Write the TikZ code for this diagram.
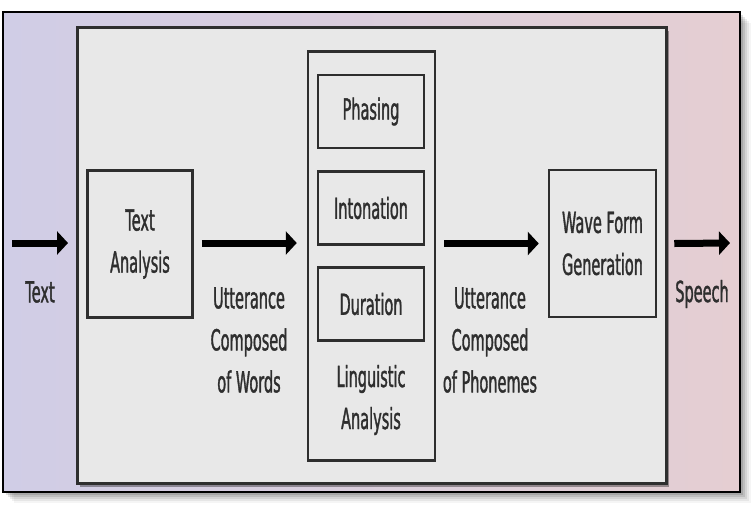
\documentclass[tikz,border=0pt]{standalone}
\usepackage{fontspec}
\setmainfont{DejaVu Sans}[FakeStretch=0.5,FakeBold=1.2]
\usetikzlibrary{arrows.meta,calc}
\definecolor{lav}{HTML}{D0CDE6}
\definecolor{pnk}{HTML}{E5CED2}
\definecolor{panel}{HTML}{E8E8E8}
\definecolor{ink}{HTML}{2E2E2E}
\tikzset{
  box/.style={draw=ink, line width=2.5pt, fill=panel, inner sep=0pt, align=center, text=ink,
    font=\fontsize{29}{42}\selectfont},
  lbl/.style={align=center, text=ink, inner sep=0pt, font=\fontsize{29}{42}\selectfont},
  flow/.style={draw=black, line width=7pt, -{Triangle[length=11pt,width=23pt]}},
}
\begin{document}
\begin{tikzpicture}[x=1pt,y=-1pt]
\useasboundingbox (0,0) rectangle (754,515);
\fill[white] (0,0) rectangle (754,515);
% outer frame shadow
\foreach \o/\op in {3/0.12,5/0.10,7/0.08,9/0.06,11/0.04}
  \fill[black,opacity=\op] (3+\o,12+\o) rectangle (740+\o,492+\o);
\shade[left color=lav, right color=pnk] (3,12) rectangle (740,492);
\draw[black, line width=2pt] (3,12) rectangle (740,492);
% inner panel shadow
\fill[black,opacity=0.35] (80,31) rectangle (669,487);
\filldraw[fill=panel, draw=ink, line width=3pt] (77,27) rectangle (666,483);
% boxes
\node[box, minimum width=105pt, minimum height=147pt] (ta) at (140,244) {Text\\Analysis};
\node[box, minimum width=127pt, minimum height=409pt] (ling) at (371.5,256) {};
\node[box, minimum width=106pt, minimum height=73pt] (ph) at (371,111.5) {Phasing};
\node[box, minimum width=106pt, minimum height=73pt] (in) at (371,208) {Intonation};
\node[box, minimum width=106pt, minimum height=73pt] (du) at (371,304) {Duration};
\node[lbl] (la) at (371,400) {Linguistic\\Analysis};
\node[box, minimum width=107pt, minimum height=147pt] (wf) at (602.5,243.5) {Wave Form\\Generation};
% labels
\node[lbl] (t) at (40,292) {Text};
\node[lbl] (sp) at (702,294) {Speech};
\node[lbl] (uw) at (249,340) {Utterance\\Composed\\of Words};
\node[lbl] (up) at (490,340) {Utterance\\Composed\\of Phonemes};
% arrows
\coordinate (in1) at (12,243);
\coordinate (e1) at (68,243);
\coordinate (out1) at (730,243);
\draw[flow] (in1) -- (e1);
\draw[flow] ($(ta.east)+(8,-1)$) -- ($(ta.east -| ling.west)+(-10,-1)$);
\draw[flow] ($(ling.east |- wf.east)+(8,0)$) -- ($(wf.west)+(-9,0)$);
\draw[flow] ($(wf.east)+(17,0)$) -- (out1);
\end{tikzpicture}
\end{document}
